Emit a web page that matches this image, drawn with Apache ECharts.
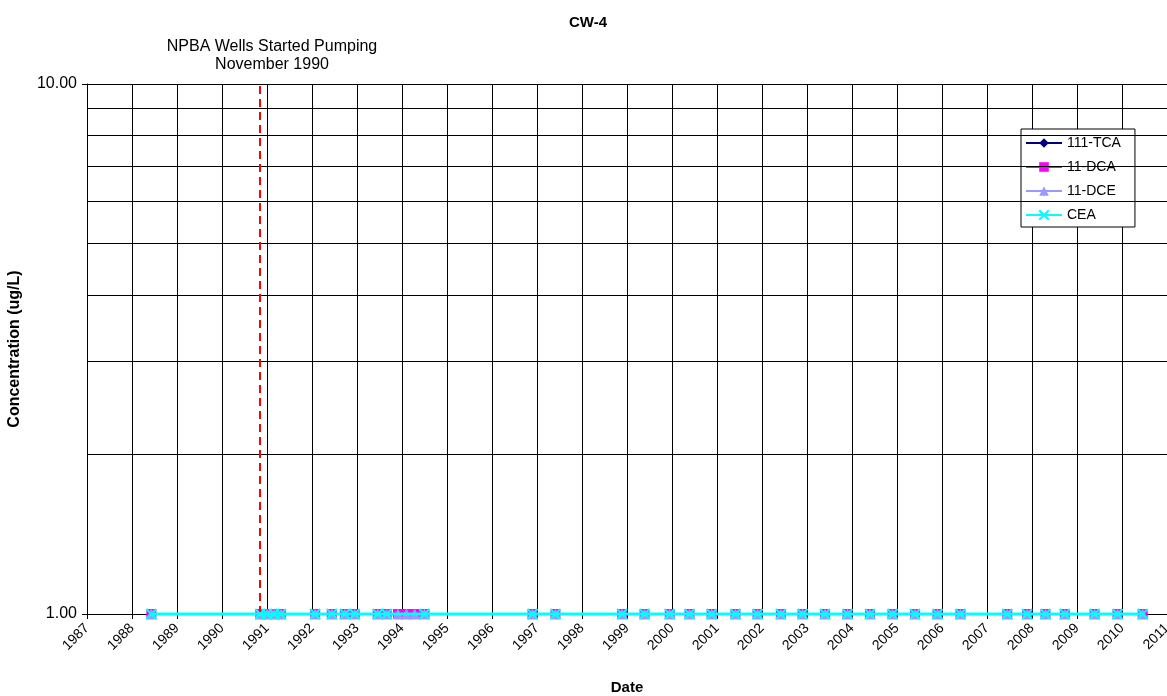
<!DOCTYPE html>
<html>
<head>
<meta charset="utf-8">
<script src="https://cdn.jsdelivr.net/npm/echarts@6/dist/echarts.min.js"></script>
<style>html,body{margin:0;padding:0;background:#fff;}#c{width:1167px;height:696px;}</style>
</head>
<body>
<div id="c"></div>
<script>
// Sample dates as decimal years
const sampleDates = [1988.43, 1990.85, 1991.00, 1991.16, 1991.31, 1992.07, 1992.44, 1992.73, 1992.95,
  1993.46, 1993.66, 1993.91, 1994.10, 1994.28, 1994.50, 1996.90, 1997.41, 1998.89, 1999.39, 1999.95,
  2000.39, 2000.88, 2001.41, 2001.90, 2002.42, 2002.90, 2003.40, 2003.90, 2004.40, 2004.90, 2005.40,
  2005.90, 2006.41, 2007.45, 2007.89, 2008.30, 2008.73, 2009.39, 2009.90, 2010.46];
const tca111 = [1,1,1,1,1,1,1,1,1,1,1,1,1,1,1,1,1,1,1,1,1,1,1,1,1,1,1,1,1,1,1,1,1,1,1,1,1,1,1,1];
const dca11  = [1,1,1,1,1,1,1,1,1,1,1,1,1,1,1,1,1,1,1,1,1,1,1,1,1,1,1,1,1,1,1,1,1,1,1,1,1,1,1,1];
const dce11  = [1,1,1,1,1,1,1,1,1,1,1,1,1,1,1,1,1,1,1,1,1,1,1,1,1,1,1,1,1,1,1,1,1,1,1,1,1,1,1,1];
const cea    = [1,1,1,1,1,1,1,1,1,1,1,null,null,null,1,1,1,1,1,1,1,1,1,1,1,1,1,1,1,1,1,1,1,1,1,1,1,1,1,1];
const pumpingStart = 1990.83;
const minorGrid = [2,3,4,5,6,7,8,9];
const xMin = 1987, xMax = 2011;

function pairs(vals){ return sampleDates.map((d,i)=>[d, vals[i]]); }
const FONT = '"Liberation Sans", Arial, sans-serif';
const xPath = 'path://M0,0L10,10M10,0L0,10';

const chart = echarts.init(document.getElementById('c'), null, {renderer:'canvas'});
chart.setOption({
  animation: false,
  backgroundColor: '#fff',
  textStyle: {fontFamily: FONT},
  title: [
    {text: 'CW-4', left: 564, top: 10,
     textStyle: {fontFamily: FONT, fontSize: 15, fontWeight: 'bold', color: '#000'}},
    {text: 'NPBA Wells Started Pumping\nNovember 1990', left: 267, top: 33, textAlign: 'center',
     textStyle: {fontFamily: FONT, fontSize: 16, fontWeight: 'normal', color: '#000', lineHeight: 18}}
  ],
  grid: {left: 87, right: 0, top: 84, bottom: 82, containLabel: false, outerBoundsMode: 'none'},
  legend: {
    orient: 'vertical', left: 1021, top: 129,
    backgroundColor: '#fff', borderColor: '#000', borderWidth: 1,
    padding: [7, 14, 5, 4], itemGap: 10, itemWidth: 36, itemHeight: 12,
    textStyle: {fontFamily: FONT, fontSize: 14, color: '#000'},
    data: ['111-TCA', '11-DCA', '11-DCE', 'CEA']
  },
  xAxis: {
    type: 'value', min: xMin, max: xMax, interval: 1,
    name: 'Date', nameLocation: 'middle', nameGap: 66,
    nameTextStyle: {fontFamily: FONT, fontSize: 15, fontWeight: 'bold', color: '#000'},
    axisLine: {show: true, onZero: false, lineStyle: {color: '#000', width: 1}},
    axisTick: {show: true, length: 5, lineStyle: {color: '#000'}},
    axisLabel: {rotate: 45, fontFamily: FONT, fontSize: 14, color: '#000', margin: 12,
      showMinLabel: true, showMaxLabel: true, hideOverlap: false,
      formatter: v => String(Math.round(v))},
    splitLine: {show: true, lineStyle: {color: '#000', width: 1}}
  },
  yAxis: {
    type: 'log', logBase: 10, min: 1, max: 10,
    name: 'Concentration (ug/L)', nameLocation: 'middle', nameGap: 64, nameRotate: 90,
    nameTextStyle: {fontFamily: FONT, fontSize: 16, fontWeight: 'bold', color: '#000'},
    axisLine: {show: true, lineStyle: {color: '#000', width: 1}},
    axisTick: {show: true, length: 5, lineStyle: {color: '#000'}},
    axisLabel: {fontFamily: FONT, fontSize: 16, color: '#000', margin: 10,
      formatter: v => Number(v).toFixed(2)},
    splitLine: {show: true, lineStyle: {color: '#000', width: 1}}
  },
  series: [
    {
      name: '111-TCA', type: 'line', data: pairs(tca111), clip: false, z: 2,
      symbol: 'diamond', symbolSize: 10,
      lineStyle: {color: '#000080', width: 1.5}, itemStyle: {color: '#000080'},
      markLine: {
        silent: true, symbol: 'none', label: {show: false},
        data: [
          ...minorGrid.map(v => ({yAxis: v, lineStyle: {color: '#000', width: 1, type: 'solid'}})),
          {xAxis: pumpingStart, lineStyle: {color: '#ff0000', width: 2, type: [8, 5]}}
        ]
      }
    },
    {
      name: '11-DCA', type: 'line', data: pairs(dca11), clip: false, z: 3,
      symbol: 'rect', symbolSize: 10,
      lineStyle: {color: '#ff00ff', width: 1.5}, itemStyle: {color: '#ff00ff'}
    },
    {
      name: '11-DCE', type: 'line', data: pairs(dce11), clip: false, z: 4,
      symbol: 'triangle', symbolSize: 11,
      lineStyle: {color: '#9999ff', width: 1.5}, itemStyle: {color: '#9999ff'}
    },
    {
      name: 'CEA', type: 'line', data: pairs(cea), clip: false, z: 5, connectNulls: true,
      symbol: xPath, symbolSize: 10,
      lineStyle: {color: '#00ffff', width: 3},
      itemStyle: {color: '#00ffff', borderColor: '#00ffff', borderWidth: 2}
    }
  ]
});
</script>
</body>
</html>
